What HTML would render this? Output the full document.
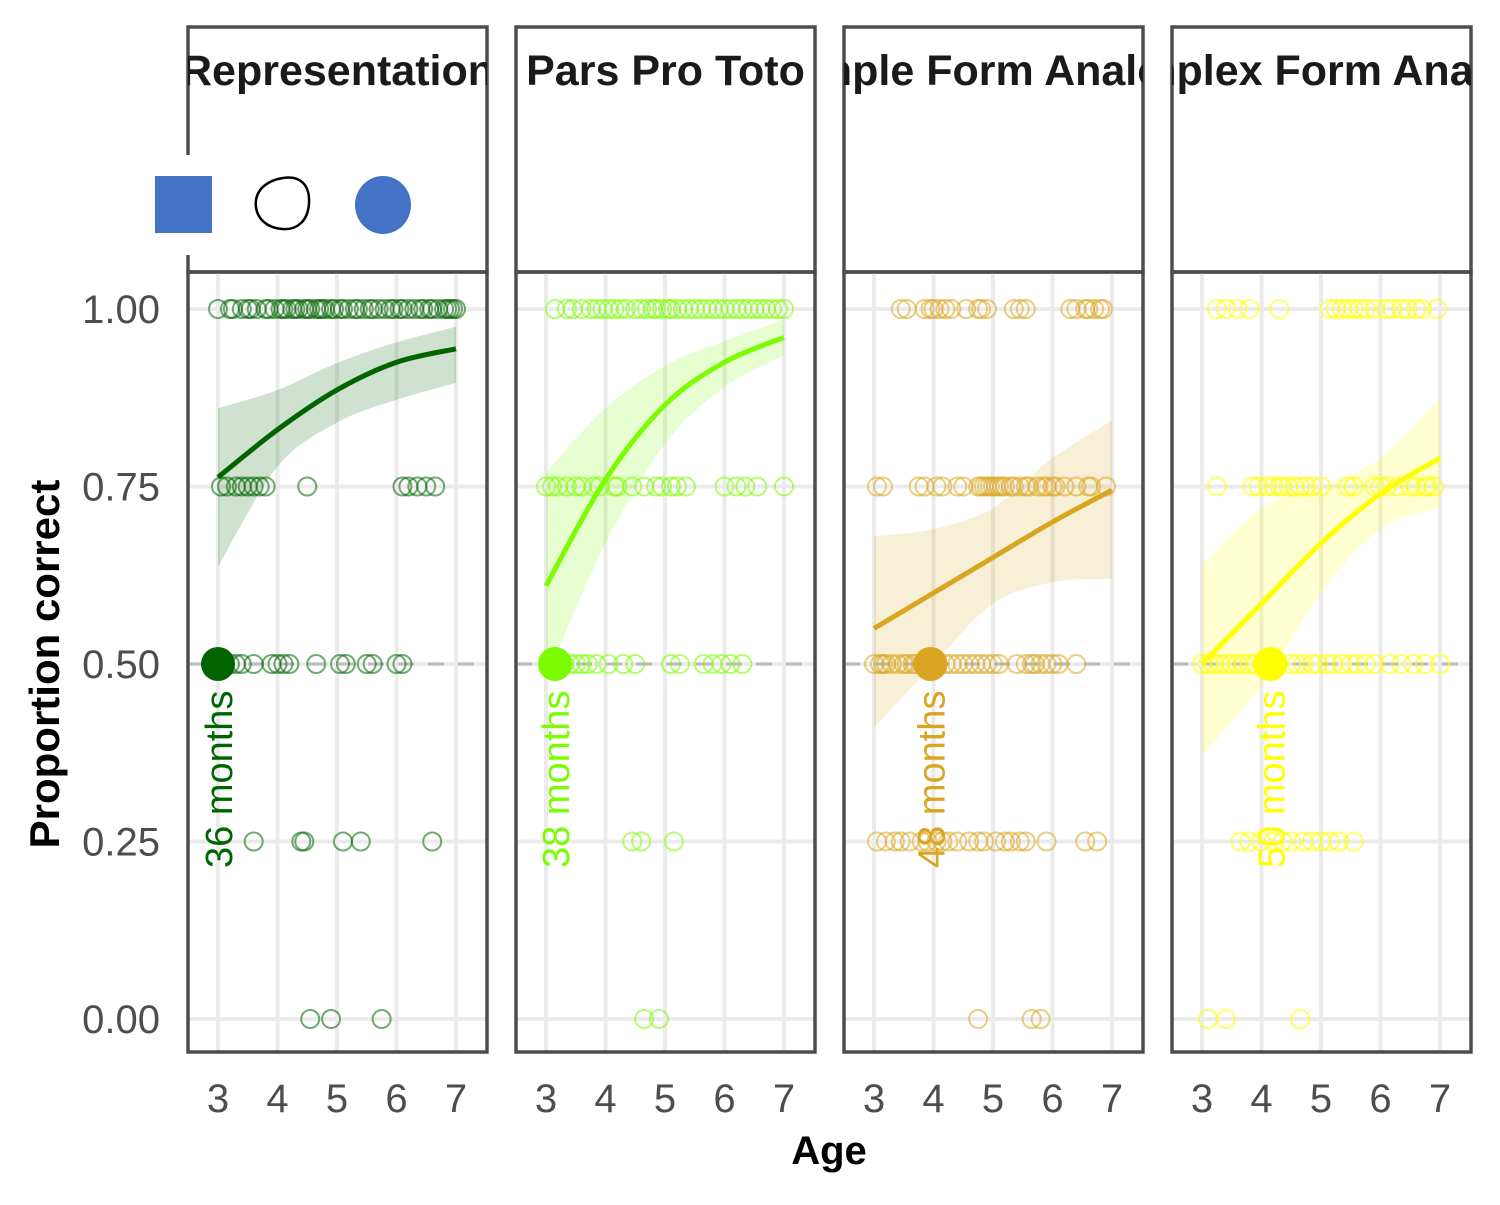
<!DOCTYPE html>
<html><head><meta charset="utf-8"><style>
html,body{margin:0;padding:0;background:#fff}
svg text{font-family:"Liberation Sans",Arial,sans-serif}
</style></head><body>
<svg id="chart" width="1500" height="1200" xmlns="http://www.w3.org/2000/svg"></svg>
<script>
const panelTitles=["Representation","Pars Pro Toto","Simple Form Analogy","Complex Form Analogy"];
const panelColors=["#006400","#7CFC00","#DAA520","#FFFF00"];
const labelColors=["#006400","#7CFC00","#DAA520","#FFFF00"];
const xTicks=[3,4,5,6,7];
const yTicks=[0,0.25,0.5,0.75,1];
const yTickLabels=["0.00","0.25","0.50","0.75","1.00"];
const fitX=[3,4,5,6,7];
const fitY=[[0.763,0.83,0.886,0.925,0.944],[0.61,0.76,0.865,0.925,0.96],[0.55,0.60,0.65,0.70,0.745],[0.50,0.585,0.67,0.74,0.79]];
const bandHi=[[0.86,0.886,0.924,0.953,0.975],[0.77,0.86,0.92,0.955,0.985],[0.68,0.69,0.72,0.79,0.843],[0.64,0.72,0.75,0.79,0.875]];
const bandLo=[[0.637,0.778,0.84,0.872,0.896],[0.48,0.67,0.81,0.89,0.935],[0.41,0.50,0.585,0.615,0.62],[0.37,0.47,0.60,0.69,0.72]];
const meanAge=[3.0,3.15,3.95,4.15];
const meanLabels=["36  months","38  months","48  months","50  months"];
const p1=[[4.55,4.9,5.75],[3.6,4.4,4.45,5.1,5.4,6.6],[3.2,3.3,3.4,3.6,3.9,4.0,4.1,4.2,4.65,5.05,5.15,5.5,5.6,6.0,6.1],[3.05,3.15,3.3,3.4,3.5,3.6,3.7,3.8,4.5,6.1,6.2,6.35,6.5,6.65],[3.0,3.2,3.25,3.4,3.5,3.55,3.65,3.8,3.85,3.95,4.05,4.1,4.15,4.25,4.3,4.35,4.45,4.5,4.55,4.65,4.7,4.75,4.8,4.9,4.95,5.05,5.1,5.2,5.3,5.35,5.45,5.55,5.6,5.7,5.8,5.9,5.95,6.05,6.1,6.2,6.3,6.4,6.45,6.55,6.6,6.7,6.8,6.85,6.9,6.95,7.0]];
const p2=[[4.65,4.9],[4.45,4.6,5.15],[3.15,3.3,3.4,3.5,3.6,3.7,3.85,4.05,4.3,4.5,5.1,5.25,5.65,5.8,5.95,6.1,6.3],[3.0,3.1,3.2,3.35,3.5,3.6,3.8,3.9,4.15,4.2,4.45,4.65,4.85,4.95,5.1,5.2,5.35,6.0,6.2,6.35,6.55,7.0],[3.15,3.35,3.45,3.6,3.75,3.85,3.95,4.05,4.15,4.25,4.35,4.5,4.6,4.7,4.8,4.85,4.95,5.05,5.1,5.2,5.3,5.4,5.5,5.6,5.7,5.8,5.9,6.0,6.1,6.2,6.3,6.4,6.5,6.6,6.7,6.8,6.9,7.0]];
const p3=[[4.75,5.65,5.8],[3.05,3.2,3.35,3.45,3.6,3.8,3.9,4.05,4.15,4.25,4.4,4.6,4.75,4.85,5.05,5.2,5.3,5.45,5.55,5.9,6.55,6.75],[3.0,3.1,3.15,3.2,3.3,3.4,3.5,3.55,3.65,3.7,3.8,4.2,4.3,4.4,4.5,4.6,4.7,4.8,4.9,5.0,5.1,5.4,5.55,5.65,5.7,5.8,5.9,6.0,6.1,6.4],[3.05,3.15,3.75,3.85,4.05,4.15,4.4,4.5,4.75,4.8,4.85,4.9,4.95,5.0,5.05,5.1,5.15,5.2,5.3,5.35,5.45,5.55,5.6,5.75,5.85,5.9,6.0,6.05,6.2,6.4,6.6,6.65,6.9],[3.45,3.55,3.85,3.95,4.0,4.1,4.2,4.3,4.55,4.75,4.8,4.9,5.35,5.45,5.55,6.3,6.4,6.55,6.6,6.7,6.8,6.85]];
const p4=[[3.1,3.4,4.65],[3.65,3.8,4.0,4.2,4.35,4.5,4.7,4.85,5.0,5.15,5.3,5.55],[3.0,3.1,3.2,3.3,3.4,3.5,3.6,3.7,3.8,3.9,4.5,4.6,4.7,4.85,4.95,5.1,5.2,5.35,5.5,5.6,5.75,5.9,6.15,6.35,6.55,6.75,7.0],[3.25,3.85,3.95,4.1,4.2,4.3,4.35,4.45,4.55,4.65,4.75,4.85,5.0,5.45,5.55,5.9,6.0,6.1,6.3,6.5,6.6,6.75,6.8,6.9],[3.25,3.4,3.6,3.8,4.3,5.15,5.25,5.35,5.45,5.55,5.65,5.75,5.9,6.1,6.2,6.35,6.45,6.6,6.7,6.95]];
const levels=[0,0.25,0.5,0.75,1];
const panelPoints=[p1,p2,p3,p4];

const NS="http://www.w3.org/2000/svg";
const svg=document.getElementById('chart');
function mk(tag,attrs,parent){const e=document.createElementNS(NS,tag);for(const k in attrs)e.setAttribute(k,attrs[k]);(parent||svg).appendChild(e);return e;}
const panelLeft=[188,516,844,1172], panelW=299;
const plotTop=272, plotBot=1052;
function yS(v){return 1019+(309-1019)*v;}
function xS(p,v){return panelLeft[p]+30+(v-3)*59.5;}
// Catmull-Rom smooth path through points (array of [x,y]); cont=true continues existing path
function smooth(pts,start){
  let d=(start?'M':'L')+pts[0][0]+','+pts[0][1];
  for(let i=0;i<pts.length-1;i++){
    const p0=pts[Math.max(0,i-1)],p1=pts[i],p2=pts[i+1],p3=pts[Math.min(pts.length-1,i+2)];
    const c1x=p1[0]+(p2[0]-p0[0])/6,c1y=p1[1]+(p2[1]-p0[1])/6;
    const c2x=p2[0]-(p3[0]-p1[0])/6,c2y=p2[1]-(p3[1]-p1[1])/6;
    d+='C'+c1x+','+c1y+' '+c2x+','+c2y+' '+p2[0]+','+p2[1];
  }
  return d;
}

for(let p=0;p<4;p++){
  const L=panelLeft[p], R=L+panelW;
  const g=mk('g',{});
  
  
  const clip=mk('clipPath',{id:'clip'+p},g);
  mk('rect',{x:L,y:27,width:panelW,height:245},clip);
  const st=mk('rect',{x:L,y:27,width:panelW,height:245,fill:'#fff',stroke:'#4d4d4d','stroke-width':3.5},g);
  
  
  const tt=mk('text',{x:L+panelW/2,y:85,'text-anchor':'middle','font-size':43,'font-weight':'bold',fill:'#1a1a1a','clip-path':'url(#clip'+p+')'},g);
  tt.textContent=panelTitles[p];
  
  
  xTicks.forEach(t=>{mk('line',{x1:xS(p,t),x2:xS(p,t),y1:plotTop,y2:plotBot,stroke:'#ebebeb','stroke-width':4},g);});
  yTicks.forEach(t=>{mk('line',{x1:L,x2:R,y1:yS(t),y2:yS(t),stroke:'#ebebeb','stroke-width':4},g);});
  mk('line',{x1:L,x2:R,y1:yS(0.5),y2:yS(0.5),stroke:'#bdbdbd','stroke-width':3,'stroke-dasharray':'16,14'},g);
  const hi=fitX.map((x,i)=>[xS(p,x),yS(bandHi[p][i])]);
  const lo=fitX.map((x,i)=>[xS(p,x),yS(bandLo[p][i])]).reverse();
  const band=mk('path',{d:smooth(hi,true)+smooth(lo,false)+'Z',fill:panelColors[p],'fill-opacity':p==0?0.19:0.18},g);
  
  
  panelPoints[p].forEach((arr,li)=>{arr.forEach(a=>{
    const c=mk('circle',{cx:xS(p,a),cy:yS(levels[li]),r:9,fill:'none',stroke:panelColors[p],'stroke-width':2,'stroke-opacity':p==3?0.6:0.55},g);
    
    
  });});
  const fp=fitX.map((x,i)=>[xS(p,x),yS(fitY[p][i])]);
  const fl=mk('path',{d:smooth(fp,true),fill:'none',stroke:panelColors[p],'stroke-width':5,'stroke-linejoin':'round'},g);
  
  
  const mp=mk('circle',{cx:xS(p,meanAge[p]),cy:yS(0.5),r:17,fill:panelColors[p]},g);
  
  
  const ml=mk('text',{x:0,y:0,'font-size':38,fill:labelColors[p],transform:'translate('+(xS(p,meanAge[p])+14)+',868) rotate(-90)','xml:space':'preserve'},g);
  ml.textContent=meanLabels[p];
  
  
  mk('rect',{x:L,y:plotTop,width:panelW,height:plotBot-plotTop,fill:'none',stroke:'#4d4d4d','stroke-width':3.5},g);
  xTicks.forEach(t=>{
    const tx=mk('text',{x:xS(p,t),y:1112,'text-anchor':'middle','font-size':40,fill:'#4d4d4d'},g);
    tx.textContent=t;
    
    
  });
}
yTicks.forEach((t,i)=>{
  const ty=mk('text',{x:160,y:yS(t)+14,'text-anchor':'end','font-size':40,fill:'#4d4d4d'});
  ty.textContent=yTickLabels[i];
  
  
});
const xt=mk('text',{x:829,y:1164,'text-anchor':'middle','font-size':40,'font-weight':'bold',fill:'#000'});
xt.textContent='Age';


const yt=mk('text',{x:0,y:0,'text-anchor':'middle','font-size':42,'font-weight':'bold',fill:'#000',transform:'translate(59,664) rotate(-90)'});
yt.textContent='Proportion correct';


const lg=mk('g',{});


mk('rect',{x:150,y:155,width:300,height:100,fill:'#fff'},lg);
const sq=mk('rect',{x:155,y:176,width:57,height:57,fill:'#4472C4'},lg);


const oc=mk('path',{d:'M283,178 C300,175 310,185 309,203 C308,222 296,230 283,229 C265,228 254,216 256,200 C258,187 270,180 283,178 Z',fill:'none',stroke:'#000','stroke-width':2.5},lg);


const bc=mk('ellipse',{cx:383,cy:205,rx:28,ry:29,fill:'#4472C4'},lg);


</script>
</body></html>
